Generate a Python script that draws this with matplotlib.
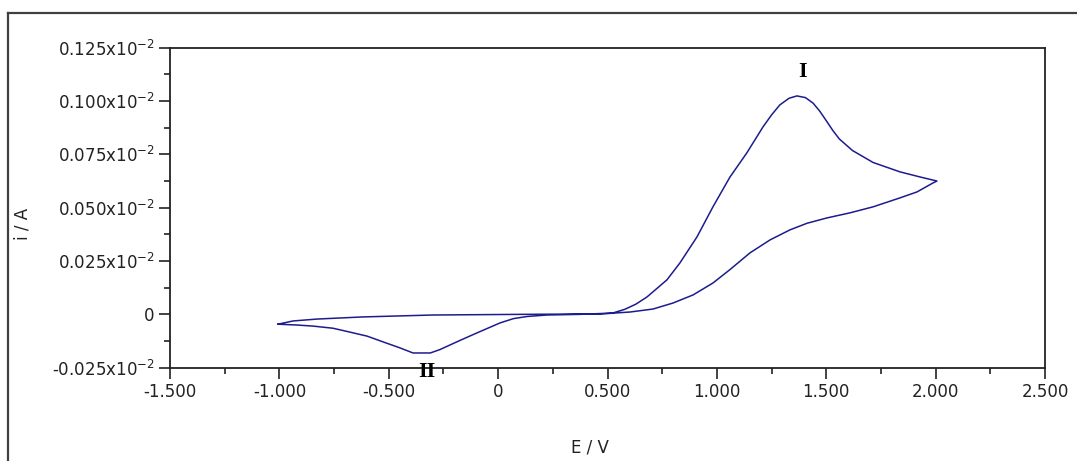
import numpy as np
import matplotlib.pyplot as plt
from matplotlib.lines import Line2D
from matplotlib.ticker import MultipleLocator, FuncFormatter

# potential (V) and current (units of 1e-2 A)
# anodic sweep -1.0 V -> 2.0 V
E_fwd = [-1.006, -0.938, -0.828, -0.618, -0.298, 0.100, 0.466, 0.520, 0.580, 0.630,
         0.681, 0.772, 0.831, 0.909, 0.982, 1.060, 1.137, 1.211, 1.250, 1.288, 1.330,
         1.366, 1.405, 1.440, 1.470, 1.500, 1.530, 1.560, 1.620, 1.714, 1.837, 1.929, 2.006]
i_fwd = [-0.0046, -0.0031, -0.0022, -0.0012, -0.0003, 0.0000, 0.0002, 0.0005, 0.0024, 0.0048,
         0.0082, 0.0162, 0.0241, 0.0363, 0.0504, 0.0644, 0.0757, 0.0879, 0.0935, 0.0982, 0.1013,
         0.1024, 0.1016, 0.0990, 0.0953, 0.0908, 0.0862, 0.0822, 0.0768, 0.0712, 0.0668, 0.0644, 0.0625]
# return sweep 2.0 V -> -1.0 V
E_rev = [2.006, 1.988, 1.915, 1.837, 1.714, 1.609, 1.503, 1.412, 1.334, 1.243,
         1.151, 1.060, 0.982, 0.891, 0.799, 0.708, 0.603, 0.543, 0.374, 0.223,
         0.132, 0.070, 0.009, -0.097, -0.174, -0.266, -0.310, -0.389, -0.449, -0.526,
         -0.599, -0.691, -0.755, -0.846, -0.919, -1.006]
i_rev = [0.0625, 0.0616, 0.0574, 0.0546, 0.0504, 0.0476, 0.0452, 0.0427, 0.0396, 0.0349,
         0.0288, 0.0210, 0.0147, 0.0091, 0.0053, 0.0025, 0.0011, 0.0007, 0.0000, -0.0003,
         -0.0010, -0.0020, -0.0040, -0.0087, -0.0122, -0.0165, -0.0181, -0.0181, -0.0157, -0.0129,
         -0.0102, -0.0080, -0.0065, -0.0055, -0.0050, -0.0046]

peak_labels = ["I", "II"]
peak_E = [1.39, -0.325]
peak_i = [0.1136, -0.027]

fig = plt.figure(figsize=(10.77, 4.61), dpi=100)

# outer frame (only left and top edges visible in the original)
fig.add_artist(Line2D([8/1077, 8/1077], [0, 1 - 13/461], transform=fig.transFigure,
                      color='#404040', lw=1.6))
fig.add_artist(Line2D([8/1077, 1], [1 - 13/461, 1 - 13/461], transform=fig.transFigure,
                      color='#404040', lw=1.6))

ax = fig.add_axes([170/1077, 1 - 367.7/461, 875/1077, 320/461])
ax.plot(np.concatenate([E_fwd, E_rev]), np.concatenate([i_fwd, i_rev]),
        color='#1c1c8e', lw=1.1)

ax.set_xlim(-1.5, 2.5)
ax.set_ylim(-0.025, 0.125)
ax.xaxis.set_major_locator(MultipleLocator(0.5))
ax.xaxis.set_minor_locator(MultipleLocator(0.25))
ax.yaxis.set_major_locator(MultipleLocator(0.025))
ax.yaxis.set_minor_locator(MultipleLocator(0.0125))

def xfmt(v, pos):
    return "0" if abs(v) < 1e-9 else f"{v:.3f}"

def yfmt(v, pos):
    return "0" if abs(v) < 1e-9 else f"{v:.3f}x10$^{{-2}}$"

ax.xaxis.set_major_formatter(FuncFormatter(xfmt))
ax.yaxis.set_major_formatter(FuncFormatter(yfmt))
ax.tick_params(which='major', direction='out', length=8, width=1.2, labelsize=12,
               colors='#222222', pad=3)
ax.tick_params(which='minor', direction='out', length=4, width=1.2, colors='#222222')
ax.tick_params(top=False, right=False)
for s in ax.spines.values():
    s.set_color('#222222')
    s.set_linewidth(1.3)

ax.set_xlabel("E / V", fontsize=12, color='#222222')
ax.set_ylabel("i / A", fontsize=12, color='#222222')
ax.xaxis.set_label_coords(0.48, -0.22)
ax.yaxis.set_label_coords(-0.158, 0.45)

for lab, e, i in zip(peak_labels, peak_E, peak_i):
    ax.text(e, i, lab, ha='center', va='center', fontsize=16, fontweight='bold',
            family='Liberation Serif', clip_on=False)

fig.savefig("out.png", dpi=100)
